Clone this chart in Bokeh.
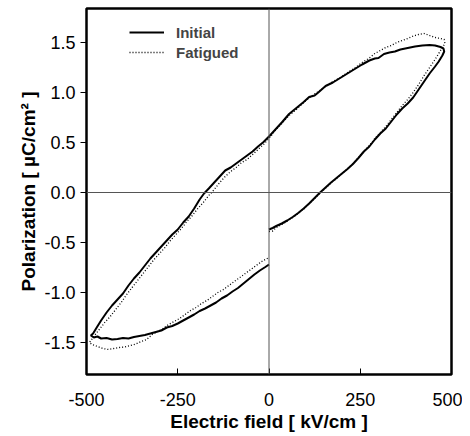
from bokeh.plotting import figure
from bokeh.models import Range1d, FixedTicker, Span, Legend, LegendItem
from bokeh.embed import file_html
from bokeh.resources import INLINE

# ---- data ----
initial_E = [0, 10, 20, 35, 50, 65, 80, 95, 110, 125, 140, 155, 170, 185, 200, 215, 230, 245, 260, 275,
             290, 305, 320, 335, 350, 365, 380, 395, 410, 425, 440, 455, 465, 475, 480,
             478, 470, 455, 440, 420, 400, 380, 360, 345, 330, 315, 300, 290, 275, 255, 235, 215, 195,
             175, 155, 135, 125, 110, 95, 75, 55, 35, 15, 0, -15, -30, -45, -60, -75, -90, -105, -120,
             -135, -150, -165, -178, -190, -205, -220, -235, -250, -265, -280, -295, -310, -325, -340,
             -355, -370, -385, -400, -415, -430, -445, -460, -472, -482, -488,
             -480, -470, -460, -445, -430, -415, -400, -385, -370, -355, -340, -325, -310, -295, -280,
             -265, -250, -235, -220, -205, -190, -175, -160, -145, -130, -115, -100, -85, -70, -55,
             -40, -25, -10, 0]
initial_P = [-0.37, -0.355, -0.335, -0.31, -0.28, -0.245, -0.205, -0.16, -0.11, -0.055, 0.0, 0.05, 0.10,
             0.145, 0.19, 0.235, 0.285, 0.345, 0.41, 0.46, 0.53, 0.59, 0.64, 0.71, 0.78, 0.84, 0.89,
             0.95, 1.03, 1.11, 1.19, 1.26, 1.31, 1.37, 1.41,
             1.44, 1.455, 1.47, 1.475, 1.47, 1.46, 1.445, 1.43, 1.41, 1.40, 1.385, 1.345, 1.34, 1.32,
             1.28, 1.235, 1.19, 1.145, 1.10, 1.065, 1.0, 0.97, 0.955, 0.905, 0.845, 0.785, 0.70, 0.62,
             0.56, 0.505, 0.46, 0.41, 0.37, 0.33, 0.29, 0.25, 0.22, 0.16, 0.10, 0.04, -0.01, -0.07,
             -0.16, -0.24, -0.30, -0.37, -0.42, -0.48, -0.54, -0.60, -0.66, -0.73, -0.80, -0.86,
             -0.93, -1.01, -1.07, -1.13, -1.20, -1.28, -1.35, -1.41, -1.43,
             -1.45, -1.44, -1.46, -1.455, -1.47, -1.465, -1.455, -1.46, -1.445, -1.435, -1.425,
             -1.41, -1.395, -1.38, -1.35, -1.335, -1.31, -1.28, -1.25, -1.22, -1.185, -1.16, -1.13,
             -1.10, -1.06, -1.03, -0.99, -0.955, -0.91, -0.865, -0.82, -0.78, -0.745, -0.72]

fatigued_E = [0, 10, 20, 35, 50, 65, 80, 95, 110, 125, 140, 155, 170, 185, 200, 215, 230, 245, 260, 275,
              290, 305, 320, 335, 350, 365, 380, 395, 410, 425, 440, 455, 465, 475, 482,
              480, 470, 455, 440, 425, 410, 395, 380, 365, 350, 335, 320, 305, 290, 275, 255, 235, 215,
              195, 175, 155, 135, 115, 95, 75, 55, 35, 15, 0, -15, -30, -45, -60, -75, -90, -105, -120,
              -135, -150, -165, -180, -195, -210, -225, -240, -255, -270, -285, -300, -315, -330, -345,
              -360, -375, -390, -405, -420, -435, -450, -465, -478, -488,
              -492, -485, -470, -455, -440, -425, -410, -395, -380, -365, -350, -335, -320, -305, -290,
              -275, -260, -245, -230, -215, -200, -185, -170, -155, -140, -125, -110, -95, -80, -65,
              -50, -35, -20, -10, 0]
fatigued_P = [-0.39, -0.385, -0.35, -0.32, -0.285, -0.25, -0.21, -0.165, -0.115, -0.06, -0.005, 0.045,
              0.095, 0.14, 0.19, 0.235, 0.29, 0.35, 0.415, 0.47, 0.54, 0.60, 0.66, 0.73, 0.80, 0.87,
              0.93, 1.00, 1.08, 1.17, 1.25, 1.33, 1.39, 1.45, 1.49,
              1.53, 1.54, 1.55, 1.57, 1.59, 1.58, 1.565, 1.54, 1.52, 1.50, 1.47, 1.45, 1.42, 1.39,
              1.345, 1.30, 1.245, 1.20, 1.15, 1.11, 1.06, 1.01, 0.96, 0.90, 0.83, 0.77, 0.69, 0.61,
              0.54, 0.48, 0.43, 0.38, 0.33, 0.30, 0.25, 0.21, 0.16, 0.10, 0.03, -0.03, -0.10, -0.16,
              -0.23, -0.29, -0.36, -0.42, -0.48, -0.55, -0.61, -0.67, -0.74, -0.81, -0.88, -0.95,
              -1.02, -1.10, -1.17, -1.24, -1.30, -1.37, -1.43, -1.48,
              -1.50, -1.52, -1.54, -1.56, -1.57, -1.56, -1.55, -1.545, -1.53, -1.515, -1.49, -1.47,
              -1.42, -1.39, -1.36, -1.32, -1.29, -1.26, -1.22, -1.18, -1.15, -1.11, -1.08, -1.04,
              -1.00, -0.97, -0.93, -0.89, -0.85, -0.81, -0.77, -0.73, -0.69, -0.67, -0.65]

x_ticks = [-500, -250, 0, 250, 500]
y_ticks = [-1.5, -1.0, -0.5, 0.0, 0.5, 1.0, 1.5]
series_labels = ["Initial", "Fatigued"]

FONT = "Liberation Sans"

p = figure(width=462, height=434, output_backend="svg", toolbar_location=None,
           x_range=Range1d(-500, 500), y_range=Range1d(-1.82, 1.84),
           min_border_left=86, min_border_right=11, min_border_top=8, min_border_bottom=60)

p.background_fill_color = "white"
p.border_fill_color = "white"
p.outline_line_color = "black"
p.outline_line_width = 2.5
p.xgrid.visible = False
p.ygrid.visible = False

p.add_layout(Span(location=0, dimension="width", line_color="#555555", line_width=1))
p.add_layout(Span(location=0, dimension="height", line_color="#555555", line_width=1))

r1 = p.line(initial_E, initial_P, line_color="black", line_width=2)
r2 = p.line(fatigued_E, fatigued_P, line_color="black", line_width=1.3, line_dash="1 2")

legend = Legend(items=[LegendItem(label=series_labels[0], renderers=[r1]),
                       LegendItem(label=series_labels[1], renderers=[r2])],
                location=(43, 312), border_line_color=None, background_fill_alpha=0,
                padding=0, margin=0, spacing=0, glyph_width=35, glyph_height=20,
                label_height=20, label_standoff=12, label_text_font=FONT,
                label_text_font_size="15px", label_text_font_style="bold")
p.add_layout(legend)

p.xaxis.ticker = FixedTicker(ticks=x_ticks)
p.xaxis.major_label_overrides = {t: str(t) for t in x_ticks}
p.yaxis.ticker = FixedTicker(ticks=y_ticks)
p.yaxis.major_label_overrides = {t: ("%.1f" % t) for t in y_ticks}

for ax in (p.xaxis[0], p.yaxis[0]):
    ax.axis_line_color = None
    ax.minor_tick_line_color = None
    ax.major_tick_line_color = "black"
    ax.major_tick_line_width = 1
    ax.major_label_text_font = FONT
    ax.major_label_text_font_size = "18px"
    ax.major_label_text_color = "black"
    ax.axis_label_text_font = FONT
    ax.axis_label_text_font_size = "19px"
    ax.axis_label_text_font_style = "bold"
    ax.axis_label_text_color = "black"

p.xaxis.major_tick_in = 6
p.xaxis.major_tick_out = 0
p.xaxis.major_label_standoff = 18
p.xaxis.axis_label = "Electric field [ kV/cm ]"
p.xaxis.axis_label_standoff = 2

p.yaxis.major_tick_in = 0
p.yaxis.major_tick_out = 6
p.yaxis.major_label_standoff = 5
p.yaxis.axis_label = "Polarization [ µC/cm² ]"
p.yaxis.axis_label_standoff = 2

open("out.html", "w").write(file_html(p, INLINE))
